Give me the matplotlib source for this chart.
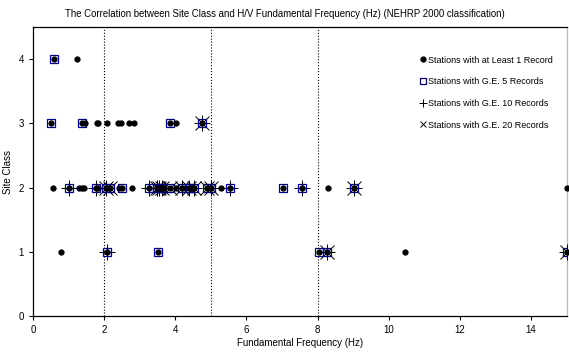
import matplotlib
matplotlib.use('Agg')
import matplotlib.pyplot as plt

plt.rcParams['font.family'] = ['Liberation Sans', 'DejaVu Sans']

# frequency (Hz) and site class for each group of stations
f_all = [0.58, 1.24,
         0.50, 1.39, 1.46, 1.79, 1.84, 2.09, 2.40, 2.47, 2.70, 2.85, 3.86, 4.02, 4.75,
         0.57, 1.01, 1.30, 1.37, 1.44, 1.77, 1.84, 2.06, 2.17, 2.43, 2.50, 2.78, 3.27,
         3.48, 3.55, 3.62, 3.67, 3.86, 4.03, 4.19, 4.39, 4.52, 4.89, 5.01, 5.29, 5.53,
         7.03, 7.55, 8.29, 9.02, 15.0,
         0.79, 2.09, 3.50, 8.04, 8.27, 10.46, 15.0]
c_all = [4, 4,
         3, 3, 3, 3, 3, 3, 3, 3, 3, 3, 3, 3, 3,
         2, 2, 2, 2, 2, 2, 2, 2, 2, 2, 2, 2, 2,
         2, 2, 2, 2, 2, 2, 2, 2, 2, 2, 2, 2, 2,
         2, 2, 2, 2, 2,
         1, 1, 1, 1, 1, 1, 1]

f_5 = [0.58,
       0.50, 1.39, 3.86, 4.75,
       1.01, 1.77, 2.06, 2.17, 2.50, 3.27, 3.48, 3.55, 3.62, 3.86, 4.19, 4.39, 4.52,
       4.89, 5.01, 5.53, 7.03, 7.55, 9.02,
       2.09, 3.50, 8.04, 8.27, 15.0]
c_5 = [4,
       3, 3, 3, 3,
       2, 2, 2, 2, 2, 2, 2, 2, 2, 2, 2, 2, 2,
       2, 2, 2, 2, 2, 2,
       1, 1, 1, 1, 1]

f_10 = [4.75,
        1.01, 1.77, 2.06, 3.27, 3.48, 3.55, 3.62, 4.19, 4.39, 4.52, 5.01, 5.53, 7.55, 9.02,
        2.09, 8.27, 15.0]
c_10 = [3,
        2, 2, 2, 2, 2, 2, 2, 2, 2, 2, 2, 2, 2, 2,
        1, 1, 1]

f_20 = [4.75,
        2.06, 2.17, 3.48, 3.55, 3.62, 3.86, 4.19, 4.39, 4.52, 4.89, 5.01, 9.02,
        8.27, 15.0]
c_20 = [3,
        2, 2, 2, 2, 2, 2, 2, 2, 2, 2, 2, 2,
        1, 1]

divisions = [2, 5, 8]

fig = plt.figure(figsize=(5.69, 3.56), dpi=100)
ax = fig.add_axes([0.058, 0.112, 0.938, 0.812])

ax.plot(f_all, c_all, 'o', color='black', markersize=3.5, ls='none',
        label='Stations with at Least 1 Record', clip_on=False, zorder=5)
ax.plot(f_5, c_5, 's', mfc='none', mec='#000080', mew=0.9, markersize=6, ls='none',
        label='Stations with G.E. 5 Records', zorder=4)
ax.plot(f_10, c_10, '+', color='black', mew=0.7, markersize=12, ls='none',
        label='Stations with G.E. 10 Records', zorder=3)
ax.plot(f_20, c_20, 'x', color='black', mew=0.7, markersize=10, ls='none',
        label='Stations with G.E. 20 Records', zorder=3)

for d in divisions:
    ax.axvline(d, color='black', ls=':', lw=0.8, zorder=1)

ax.set_xlim(0, 15)
ax.set_ylim(0, 4.5)
ax.set_xticks(range(0, 15, 2))
ax.set_yticks(range(0, 5))
ax.tick_params(labelsize=7, length=3, width=0.8)
for s in ax.spines.values():
    s.set_linewidth(0.9)
ax.spines['right'].set_color('#bbbbbb')

ax.set_xlabel('Fundamental Frequency (Hz)', fontsize=7, labelpad=2)
ax.set_ylabel('Site Class', fontsize=7, labelpad=4)
fig.suptitle('The Correlation between Site Class and H/V Fundamental Frequency (Hz) (NEHRP 2000 classification)',
             fontsize=6.9, y=0.975)

leg = ax.legend(loc='upper right', bbox_to_anchor=(0.985, 0.92), frameon=False,
                fontsize=6.5, handlelength=0.6, handletextpad=0.3, labelspacing=1.4,
                borderaxespad=0.2)
for h, ms in zip(leg.legend_handles, [3.5, 4.5, 5.5, 4.5]):
    h.set_markersize(ms)

fig.savefig('out.png', dpi=100)
